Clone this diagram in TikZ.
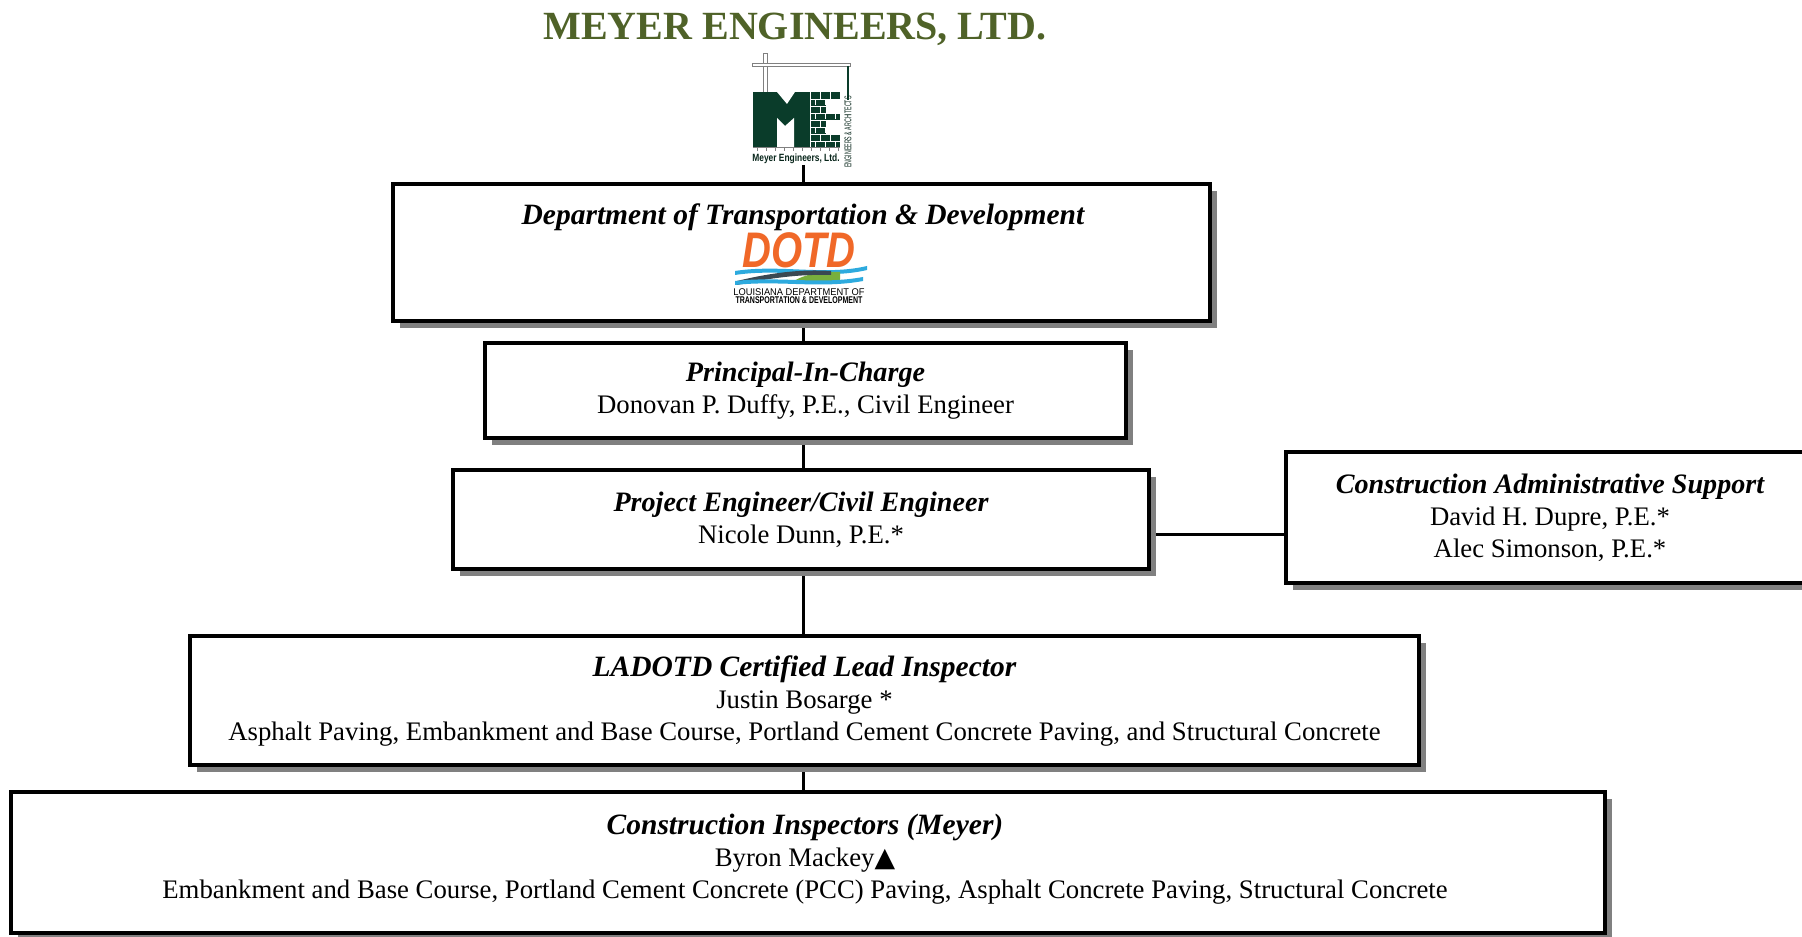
\documentclass[tikz,border=0pt]{standalone}
\usepackage{fontspec}
\setmainfont{Liberation Serif}
\setsansfont{Liberation Sans}
\newfontfamily\symfont{DejaVu Sans}
\usetikzlibrary{shadows}
\definecolor{olivegreen}{RGB}{79,98,40}
\definecolor{megreen}{RGB}{10,60,42}
\definecolor{dotdorange}{RGB}{240,104,40}
\definecolor{dotdblue}{RGB}{45,170,222}
\definecolor{dotdroad}{RGB}{58,72,82}
\definecolor{dotdgreen}{RGB}{120,175,60}
\definecolor{shadowgrey}{RGB}{128,128,128}
\pgfdeclarelayer{edgelayer}
\pgfdeclarelayer{nodelayer}
\pgfsetlayers{edgelayer,nodelayer,main}
\tikzstyle{orgbox}=[rectangle,draw=black,line width=1.6pt,fill=white,align=center,inner sep=0pt,
  drop shadow={shadow xshift=2.8pt,shadow yshift=-2.8pt,fill=shadowgrey,opacity=1}]
\tikzstyle{link}=[line width=1.2pt]
\tikzstyle{logotext}=[inner sep=0pt,font=\sffamily]
\newcommand{\orghead}[1]{{\fontsize{11.25}{12.8}\selectfont\bfseries\itshape #1}}
\newcommand{\bighead}[1]{{\fontsize{11.8}{12.8}\selectfont\bfseries\itshape #1}}

\begin{document}
\begin{tikzpicture}[x=0.4pt,y=-0.4pt,font=\fontsize{10.7}{12.8}\selectfont]
        \useasboundingbox (0,0) rectangle (1802,937);

        \node [text=olivegreen, font=\fontsize{16}{16}\selectfont\bfseries] (title) at (795, 29) {MEYER ENGINEERS, LTD.};

        % Meyer logo
        \draw [gray, line width=0.3pt, fill=white] (763, 53) rectangle (767, 92);
        \draw [gray, line width=0.3pt, fill=white] (752, 63) rectangle (850, 66);
        \draw [megreen, line width=0.5pt] (848, 66) -- (848, 100);
        \fill [megreen] (753, 92) rectangle (840, 147);
        \fill [white] (777, 92) -- (795, 92) -- (787, 104) -- cycle;
        \fill [white] (777, 147) -- (777, 118) -- (785, 126) -- (794, 118) -- (794, 147) -- cycle;
        \fill [white] (826, 99) rectangle (840, 113);
        \fill [white] (826, 120) rectangle (840, 134);
        \draw [white, line width=0.3pt] (810, 92) -- (810, 147);
        \foreach \y in {99,106,...,141}
            \draw [white, line width=0.3pt] (810, \y) -- (840, \y);
        \foreach \y in {92,106,120,134}
            \draw [white, line width=0.3pt] (820, \y) -- ++(0, 7) (830, \y) -- ++(0, 7);
        \foreach \y in {99,113,127,141}
            \draw [white, line width=0.3pt] (815, \y) -- ++(0, 6) (825, \y) -- ++(0, 6) (835, \y) -- ++(0, 6);
        \draw [gray, line width=0.3pt] (753, 147) -- (840, 147);
        \foreach \x in {757,766,...,839}
            \draw [gray, line width=0.3pt] (\x, 147) -- (\x, 151);
        \node [logotext, text=megreen!60!black, font=\sffamily\bfseries\fontsize{4.2}{4.2}\selectfont] (mename) at (796, 159) {\scalebox{0.8}[1]{Meyer Engineers, Ltd.}};
        \node [logotext, rotate=90, text=megreen!60!black, font=\sffamily\fontsize{3.9}{3.9}\selectfont] (meside) at (848, 132) {\scalebox{0.54}[1]{ENGINEERS \& ARCHITECTS}};
        \coordinate (melogo) at (803, 165);

        % DOTD logo
        \node [logotext, text=dotdorange, font=\sffamily\bfseries\itshape\fontsize{20}{20}\selectfont] (dotdword) at (799, 250) {\scalebox{0.8}[1]{DOTD}};
        \fill [dotdblue] (735, 271) .. controls (780, 264) and (825, 276) .. (867, 266) -- (867, 270) .. controls (825, 280) and (780, 268) .. (735, 275) -- cycle;
        \fill [dotdgreen] (792, 282) .. controls (805, 274) and (822, 271) .. (840, 272) -- (840, 282) -- cycle;
        \fill [dotdroad] (737, 281) .. controls (770, 273) and (800, 269) .. (831, 271) -- (831, 275) .. controls (800, 274) and (770, 278) .. (737, 285) -- cycle;
        \fill [dotdblue] (735, 281) .. controls (780, 276) and (820, 285) .. (863, 277) -- (863, 281) .. controls (820, 289) and (780, 280) .. (735, 285) -- cycle;
        \node [logotext, font=\sffamily\fontsize{3.9}{3.9}\selectfont] (dotdname1) at (799, 292.5) {\scalebox{0.955}[1]{LOUISIANA DEPARTMENT OF}};
        \node [logotext, font=\sffamily\bfseries\fontsize{3.9}{3.9}\selectfont] (dotdname2) at (799, 300) {\scalebox{0.72}[1]{TRANSPORTATION \& DEVELOPMENT}};

        \begin{pgfonlayer}{nodelayer}
            \node [style = orgbox, minimum width=326.8pt, minimum height=54.8pt] (dotd) at (801.5, 252.5) {};
            \node [style = orgbox, minimum width=256.4pt, minimum height=38pt] (pic) at (805.5, 391) {\orghead{Principal-In-Charge}\\Donovan P. Duffy, P.E., Civil Engineer};
            \node [style = orgbox, minimum width=278.4pt, minimum height=39.6pt] (pe) at (801, 519.5) {\orghead{Project Engineer/Civil Engineer}\\Nicole Dunn, P.E.*};
            \node [style = orgbox, minimum width=211.2pt, minimum height=52.4pt] (cas) at (1550, 518) {\orghead{Construction Administrative Support}\\David H. Dupre, P.E.*\\Alec Simonson, P.E.*};
            \node [style = orgbox, minimum width=491.6pt, minimum height=51.6pt] (lead) at (804.5, 701) {\bighead{LADOTD Certified Lead Inspector}\\Justin Bosarge *\\Asphalt Paving, Embankment and Base Course, Portland Cement Concrete Paving, and Structural Concrete};
            \node [style = orgbox, minimum width=637.6pt, minimum height=56.4pt] (insp) at (808, 862.5) {};
        \end{pgfonlayer}
        \node [font=\fontsize{11.8}{12.8}\selectfont\bfseries\itshape] (dotdtitle) at (803, 217) {Department of Transportation \& Development};
        \node [align=center] (insptext) at (805, 859) {\bighead{Construction Inspectors (Meyer)}\\Byron Mackey{\symfont ▲}\\Embankment and Base Course, Portland Cement Concrete (PCC) Paving, Asphalt Concrete Paving, Structural Concrete};

        \begin{pgfonlayer}{edgelayer}
            \coordinate (peside) at (1149, 535);
            \draw [link] (melogo) to (melogo |- dotd.north);
            \draw [link] (dotd.south -| 803, 0) to (pic.north -| 803, 0);
            \draw [link] (pic.south -| 803, 0) to (pe.north -| 803, 0);
            \draw [link] (pe.south -| 803, 0) to (lead.north -| 803, 0);
            \draw [link] (lead.south -| 803, 0) to (insp.north -| 803, 0);
            \draw [link] (peside) to (peside -| cas.west);
        \end{pgfonlayer}
    \end{tikzpicture}
\end{document}
